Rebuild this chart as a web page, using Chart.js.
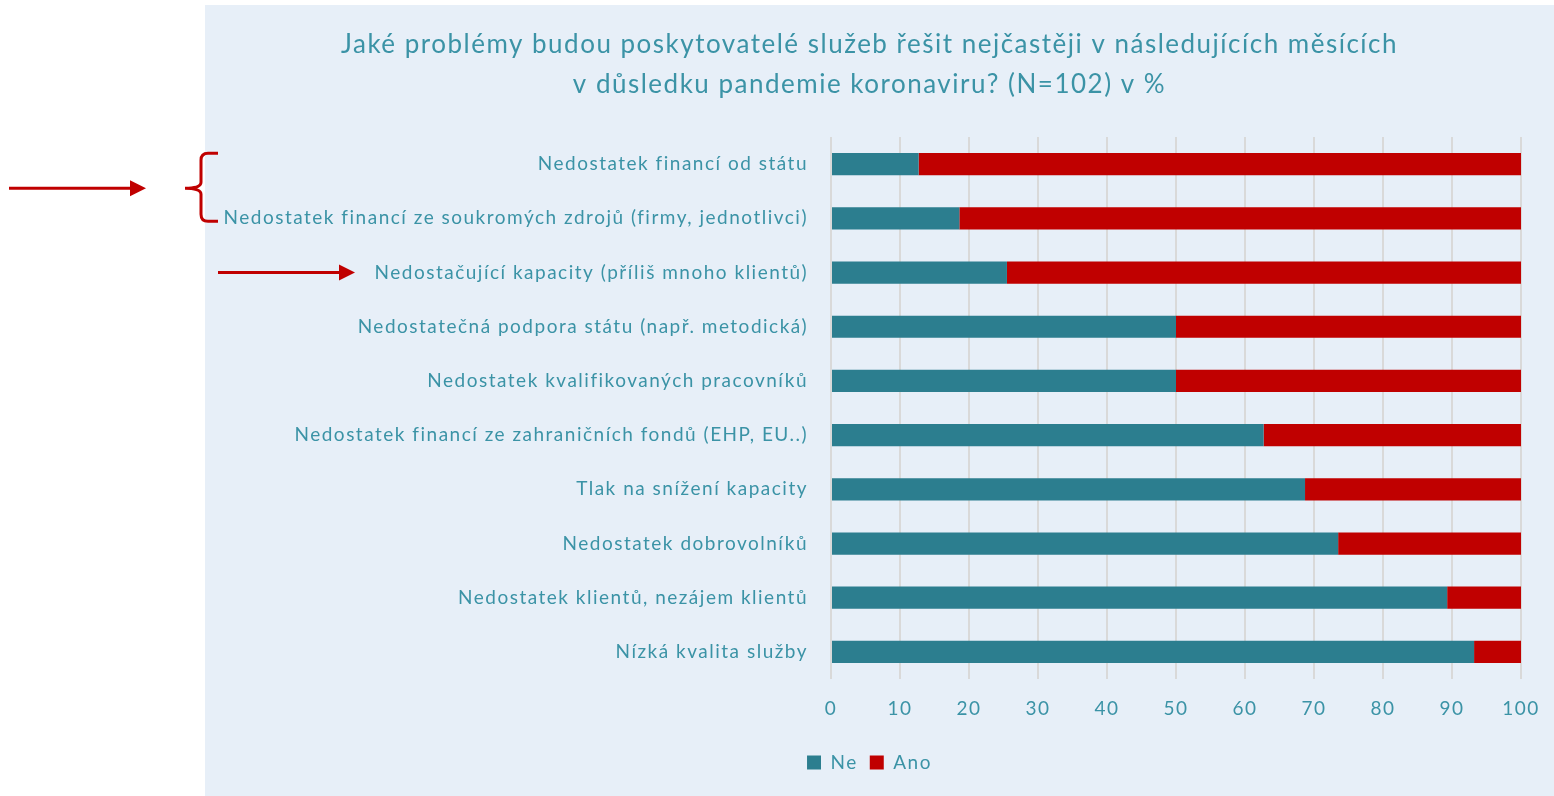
<!DOCTYPE html>
<html>
<head>
<meta charset="utf-8">
<script src="https://cdn.jsdelivr.net/npm/chart.js@4"></script>
<style>
  html, body { margin: 0; padding: 0; background: #fff; }
  #wrap { width: 1554px; height: 796px; position: relative; }
</style>
</head>
<body>
<div id="wrap"><canvas id="problemChart"></canvas></div>
<script>
const categories = [
    'Nedostatek financí od státu',
    'Nedostatek financí ze soukromých zdrojů (firmy, jednotlivci)',
    'Nedostačující kapacity (příliš mnoho klientů)',
    'Nedostatečná podpora státu (např. metodická)',
    'Nedostatek kvalifikovaných pracovníků',
    'Nedostatek financí ze zahraničních fondů (EHP, EU..)',
    'Tlak na snížení kapacity',
    'Nedostatek dobrovolníků',
    'Nedostatek klientů, nezájem klientů',
    'Nízká kvalita služby'
];
const neValues  = [12.7, 18.6, 25.5, 50.0, 50.0, 62.7, 68.7, 73.5, 89.3, 93.2];
const anoValues = [87.3, 81.4, 74.5, 50.0, 50.0, 37.3, 31.3, 26.5, 10.7, 6.8];
const xTicks = [0, 10, 20, 30, 40, 50, 60, 70, 80, 90, 100];

const textColor = '#3B93A6';
const red = '#C00000';
const fontFamily = 'Lato, "Open Sans", sans-serif';

// light blue panel behind the chart, white strip on the left
// (also widens the letter spacing a bit, like the original export)
const panelPlugin = {
    id: 'panel',
    beforeUpdate(chart) {
        chart.ctx.letterSpacing = '1.5px';
    },
    beforeDraw(chart) {
        const ctx = chart.ctx;
        ctx.letterSpacing = '1.5px';
        ctx.save();
        ctx.fillStyle = '#E7EFF8';
        ctx.fillRect(205, 5, chart.width - 205, chart.height - 5);
        ctx.restore();
    }
};

// red arrows and brace pointing at the first three categories
const markerPlugin = {
    id: 'markers',
    afterDraw(chart) {
        const ctx = chart.ctx;
        const y = chart.scales.y;
        const y0 = y.getPixelForValue(0);
        const y1 = y.getPixelForValue(1);
        const y2 = y.getPixelForValue(2);
        const mid = (y0 + y1) / 2 - 3;
        const top = y0 - 11, bottom = y1 + 3;

        function arrow(x1, x2, yy) {
            ctx.beginPath();
            ctx.moveTo(x1, yy);
            ctx.lineTo(x2 - 14, yy);
            ctx.stroke();
            ctx.beginPath();
            ctx.moveTo(x2, yy);
            ctx.lineTo(x2 - 16, yy - 8);
            ctx.lineTo(x2 - 16, yy + 8);
            ctx.closePath();
            ctx.fill();
        }

        ctx.save();
        ctx.strokeStyle = red;
        ctx.fillStyle = red;
        ctx.lineWidth = 3;
        arrow(9, 146, mid);
        arrow(218, 355, y2);

        // brace
        ctx.beginPath();
        ctx.moveTo(218, top);
        ctx.lineTo(208, top);
        ctx.quadraticCurveTo(201, top, 201, top + 7);
        ctx.lineTo(201, mid - 6);
        ctx.quadraticCurveTo(201, mid, 185, mid);
        ctx.quadraticCurveTo(201, mid, 201, mid + 6);
        ctx.lineTo(201, bottom - 7);
        ctx.quadraticCurveTo(201, bottom, 208, bottom);
        ctx.lineTo(218, bottom);
        ctx.stroke();
        ctx.restore();
    }
};

const ctx = document.getElementById('problemChart').getContext('2d');
const problemChart = new Chart(ctx, {
    type: 'bar',
    data: {
        labels: categories,
        datasets: [
            { label: 'Ne', data: neValues, backgroundColor: '#2C7E8F' },
            { label: 'Ano', data: anoValues, backgroundColor: red }
        ]
    },
    options: {
        indexAxis: 'y',
        responsive: true,
        maintainAspectRatio: false,
        animation: false,
        barPercentage: 0.41,
        categoryPercentage: 1,
        layout: { padding: { left: 218, right: 33, top: 0, bottom: 14 } },
        plugins: {
            title: {
                display: true,
                text: [
                    'Jaké problémy budou poskytovatelé služeb řešit nejčastěji v následujících měsících',
                    'v důsledku pandemie koronaviru? (N=102) v %'
                ],
                color: textColor,
                font: { family: fontFamily, size: 26, weight: 'normal', lineHeight: 1.54 },
                padding: { top: 25, bottom: 32 }
            },
            legend: {
                position: 'bottom',
                labels: {
                    color: textColor,
                    font: { family: fontFamily, size: 19 },
                    boxWidth: 14,
                    boxHeight: 14,
                    padding: 12
                }
            },
            tooltip: { enabled: false }
        },
        scales: {
            x: {
                stacked: true,
                min: 0,
                max: 100,
                afterBuildTicks(scale) {
                    scale.ticks = xTicks.map(v => ({ value: v }));
                },
                afterFit(scale) {
                    scale.height = 62;
                    scale.paddingRight = 0;
                },
                grid: { color: '#D9D9D9', lineWidth: 2, drawTicks: false },
                border: { display: false },
                ticks: {
                    color: textColor,
                    font: { family: fontFamily, size: 19 },
                    padding: 18
                }
            },
            y: {
                stacked: true,
                afterFit(scale) { scale.width = 613; },
                grid: { display: false, drawTicks: false },
                border: { display: false },
                ticks: {
                    color: textColor,
                    font: { family: fontFamily, size: 19 },
                    padding: 23,
                    autoSkip: false
                }
            }
        }
    },
    plugins: [panelPlugin, markerPlugin]
});
</script>
</body>
</html>
